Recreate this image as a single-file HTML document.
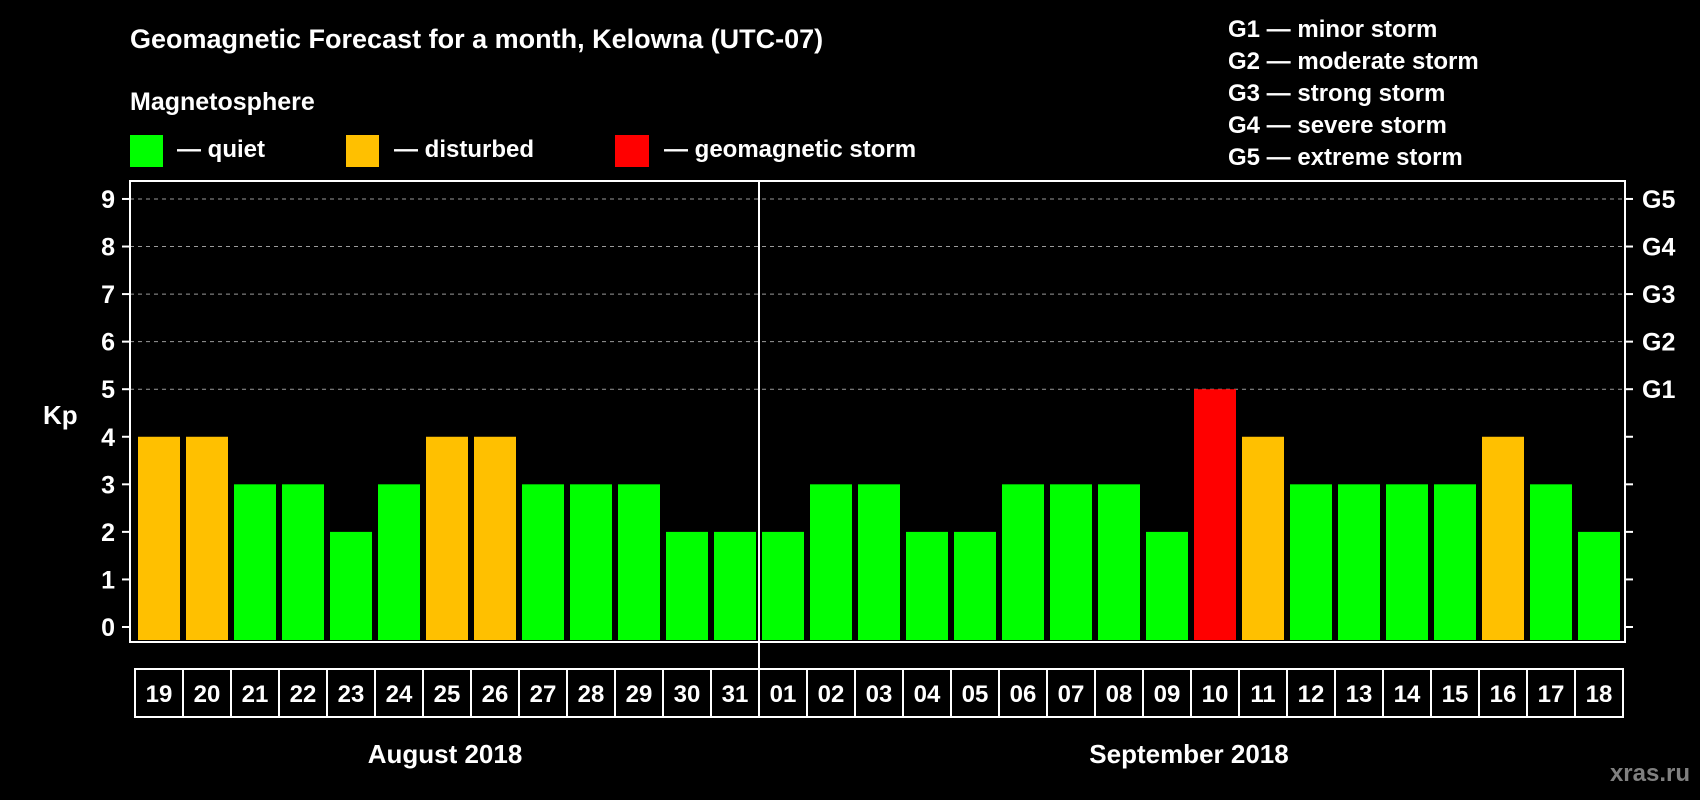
<!DOCTYPE html>
<html><head><meta charset="utf-8"><style>
html,body{margin:0;padding:0;background:#000;}
svg{display:block;font-family:"Liberation Sans",Arial,sans-serif;font-weight:bold;}
</style></head><body>
<svg id="chart" width="1700" height="800" viewBox="0 0 1700 800" xmlns="http://www.w3.org/2000/svg">
<rect x="0" y="0" width="1700" height="800" fill="#000"/>
<text x="130" y="48" fill="#fff" font-size="27">Geomagnetic Forecast for a month, Kelowna (UTC-07)</text>
<text x="130" y="110" fill="#fff" font-size="25">Magnetosphere</text>
<g>
<rect x="130" y="135" width="33" height="32" fill="#00ff00"/>
<text x="177" y="157" fill="#fff" font-size="24">— quiet</text></g>
<g>
<rect x="346" y="135" width="33" height="32" fill="#ffc000"/>
<text x="394" y="157" fill="#fff" font-size="24">— disturbed</text></g>
<g>
<rect x="615" y="135" width="34" height="32" fill="#ff0000"/>
<text x="664" y="157" fill="#fff" font-size="24">— geomagnetic storm</text></g>
<g fill="#fff" font-size="24">
<text x="1228" y="37">G1 — minor storm</text>
<text x="1228" y="69">G2 — moderate storm</text>
<text x="1228" y="101">G3 — strong storm</text>
<text x="1228" y="133">G4 — severe storm</text>
<text x="1228" y="165">G5 — extreme storm</text>
</g>
<text x="43" y="424" fill="#fff" font-size="26">Kp</text>
<g id="grid"></g>
<g id="bars"></g>
<g id="axes"></g>
<g id="dates"></g>
<text x="445" y="763" fill="#fff" font-size="26" text-anchor="middle">August 2018</text>
<text x="1189" y="763" fill="#fff" font-size="26" text-anchor="middle">September 2018</text>
<text x="1690" y="781" fill="#808080" font-size="24" text-anchor="end">xras.ru</text>
</svg>
<script>
const days = ["19","20","21","22","23","24","25","26","27","28","29","30","31","01","02","03","04","05","06","07","08","09","10","11","12","13","14","15","16","17","18"];
const kp = [4,4,3,3,2,3,4,4,3,3,3,2,2,2,3,3,2,2,3,3,3,2,5,4,3,3,3,3,4,3,2];
const yTicks = [0,1,2,3,4,5,6,7,8,9];
const gLabels = ["G1","G2","G3","G4","G5"];
const NS="http://www.w3.org/2000/svg";
const L=130,R=1625,T=181,B=642,Y0=627,YU=47.56,PITCH=48,X0=138,BW=42;
const y=v=>Y0-v*YU;
const x=i=>X0+i*PITCH;
function mk(tag,attrs,parent){const e=document.createElementNS(NS,tag);for(const k in attrs)e.setAttribute(k,attrs[k]);parent.appendChild(e);return e;}
const grid=document.getElementById('grid'),bars=document.getElementById('bars'),axes=document.getElementById('axes'),dates=document.getElementById('dates');
yTicks.forEach(v=>{
 if(v>=5){const g=mk('line',{x1:L,x2:R,y1:y(v),y2:y(v),stroke:'#9a9a9a','stroke-width':1,'stroke-dasharray':'4,4'},grid);
 
 }
 const t=mk('line',{x1:L-8,x2:L,y1:y(v),y2:y(v),stroke:'#fff','stroke-width':2},axes);
 
 
 const t2=mk('line',{x1:R,x2:R+8,y1:y(v),y2:y(v),stroke:'#fff','stroke-width':2},axes);
 
 
 const lb=mk('text',{x:115,y:y(v)+9,fill:'#fff','font-size':25,'text-anchor':'end'},axes);
 lb.textContent=v;
 
 
});
gLabels.forEach((g,i)=>{
 const lb=mk('text',{x:1642,y:y(5+i)+9,fill:'#fff','font-size':25},axes);
 lb.textContent=g;
 
 
});
kp.forEach((v,i)=>{
 const c=v>=5?'#ff0000':(v>=4?'#ffc000':'#00ff00');
 const r=mk('rect',{x:x(i),y:y(v),width:BW,height:B-2-y(v),fill:c},bars);
 
 
});
const fr=mk('rect',{x:L,y:T,width:R-L,height:B-T,fill:'none',stroke:'#fff','stroke-width':2},axes);


const sep=mk('line',{x1:759,x2:759,y1:T,y2:717,stroke:'#fff','stroke-width':2},axes);


days.forEach((d,i)=>{
 const bx=135+i*PITCH;
 const r=mk('rect',{x:bx,y:669,width:PITCH,height:48,fill:'none',stroke:'#fff','stroke-width':2},dates);
 
 
 const t=mk('text',{x:bx+PITCH/2,y:702,fill:'#fff','font-size':24,'text-anchor':'middle'},dates);
 t.textContent=d;
 
 
});
</script>
</body></html>
